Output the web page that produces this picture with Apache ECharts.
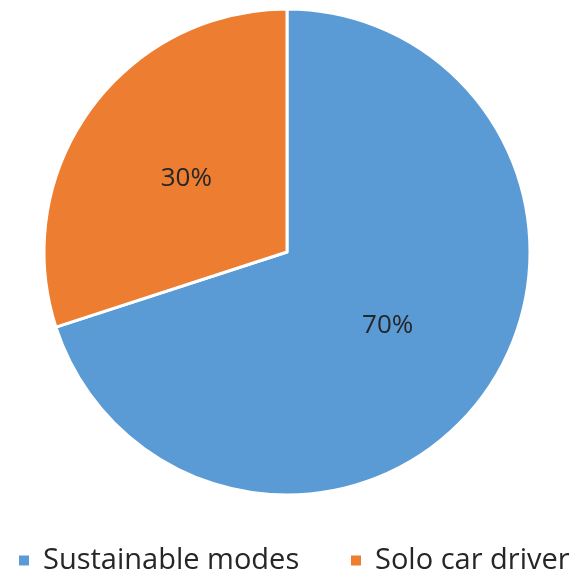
<!DOCTYPE html>
<html>
<head>
<meta charset="utf-8">
<script src="https://cdn.jsdelivr.net/npm/echarts@6/dist/echarts.min.js"></script>
<style>html,body{margin:0;padding:0;background:#fff;}#c{width:574px;height:577px;}</style>
</head>
<body>
<div id="c"></div>
<script>
const categories = ["Sustainable modes", "Solo car driver"];
const values = [70, 30];
const colors = ["#5B9BD5", "#ED7D31"];
const legendLeft = [17, 349];

const chart = echarts.init(document.getElementById('c'), null, {renderer: 'canvas'});
chart.setOption({
  animation: false,
  color: colors,
  legend: categories.map((name, i) => ({
    data: [name],
    top: 546,
    left: legendLeft[i],
    padding: 0,
    icon: 'rect',
    itemWidth: 12,
    itemHeight: 12,
    textStyle: {fontFamily: 'Open Sans', fontSize: 29, color: '#262626', padding: [0, 0, 0, 8]}
  })),
  series: [{
    type: 'pie',
    center: [287, 252],
    radius: [0, 243],
    startAngle: 90,
    clockwise: true,
    data: categories.map((n, i) => ({name: n, value: values[i]})),
    itemStyle: {borderColor: '#fff', borderWidth: 3},
    label: {
      show: true,
      position: 'inner',
      formatter: '{d}%',
      fontFamily: 'Open Sans',
      fontSize: 26,
      color: '#262626'
    },
    labelLine: {show: false},
    emphasis: {disabled: true}
  }]
});
</script>
</body>
</html>
